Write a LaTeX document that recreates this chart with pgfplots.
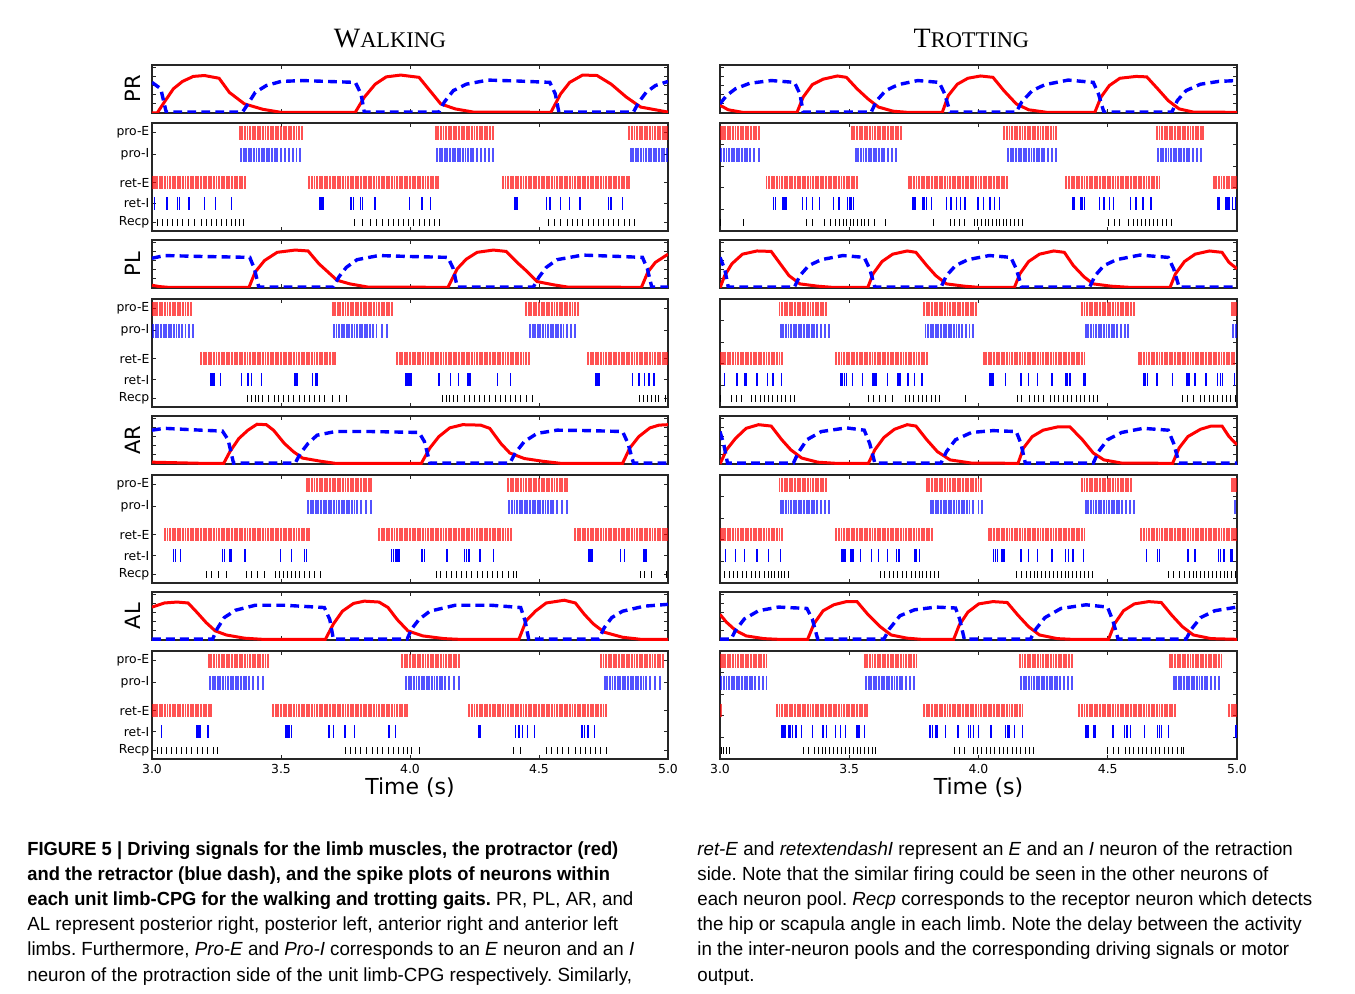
\documentclass[border=0pt]{standalone}
\usepackage{pgfplots}
\pgfplotsset{compat=1.18}
\usepackage{fontspec}
\setmainfont{Liberation Sans}[FakeStretch=0.985]
\newfontfamily\capbold{Liberation Sans}[FakeStretch=0.965]
\newfontfamily\axfont{DejaVu Sans}
\newfontfamily\serfont{Liberation Serif}
\definecolor{cred}{RGB}{255,0,0}
\definecolor{cblue}{RGB}{0,0,255}
\frenchspacing

\makeatletter
\newcommand\spikes[3]{%
  \gdef\spk@list{}%
  \foreach \spkt in {#3}{\xdef\spk@list{\spk@list(\spkt,#2)}}%
  \edef\spk@cmd{\noexpand\addplot[#1] coordinates {\spk@list};}%
  \spk@cmd}
\makeatother

\pgfplotsset{
  base/.style={scale only axis, xmin=3, xmax=5,
    axis line style={line width=0.75pt, black!85},
    tick align=inside, major tick length=2pt,
    every tick/.style={black!85, line width=0.5pt},
    xtick={3.5,4,4.5}, xticklabels={}, yticklabels={},
    tick label style={font=\axfont\fontsize{6.2}{7}\selectfont},
    /pgf/number format/assume math mode=true},
  wcol/.style={width=258pt},
  tcol/.style={width=258.5pt},
  sig/.style={base, height=24pt, ymin=0, ymax=1.05, ytick={0.2,0.4,0.6,0.8,1.0},
    every axis y label/.style={at={(axis description cs:-0.037,0.5)}, rotate=90, anchor=center,
      font=\axfont\fontsize{10.5}{12}\selectfont}},
  ras/.style={base, height=54pt, ymin=0, ymax=5},
  wras/.style={ytick={0.39,1.27,2.24,3.53,4.55}, yticklabels={Recp,ret-I,ret-E,pro-I,pro-E},
    yticklabel style={xshift=2.2pt}},
  tras/.style={ytick={1,2,3,4}},
  bottom/.style={xtick={3,3.5,4,4.5,5}, xticklabels={3.0,3.5,4.0,4.5,5.0}, xlabel={Time (s)},
    xticklabel style={yshift=0.8pt},
    every axis x label/.style={at={(axis description cs:0.5,0)}, anchor=north, yshift=-6pt,
      font=\axfont\fontsize{11}{13}\selectfont}},
  redline/.style={color=cred, line width=1.5pt, no marks},
  blueline/.style={color=cblue, line width=1.7pt, dash pattern=on 4.4pt off 2.6pt, no marks},
  rspk/.style={only marks, mark=|, mark size=3.4pt, color=cred, line width=0.95pt, opacity=0.68},
  bspk/.style={only marks, mark=|, mark size=3.4pt, color=cblue, line width=0.95pt, opacity=0.68},
  ispk/.style={only marks, mark=|, mark size=3.1pt, color=cblue, line width=0.7pt},
  kspk/.style={only marks, mark=|, mark size=1.6pt, color=black, line width=0.5pt},
}

\begin{document}
\begin{tikzpicture}
\useasboundingbox (0,0) rectangle (677.5pt,-497pt);
\fill[white] (0,0) rectangle (677.5pt,-497pt);

\node[anchor=base, font=\serfont] at (195pt,-24pt) {\fontsize{14}{16}\selectfont W\fontsize{11.2}{16}\selectfont ALKING};
\node[anchor=base, font=\serfont] at (485.7pt,-24pt) {\fontsize{14}{16}\selectfont T\fontsize{11.2}{16}\selectfont ROTTING};

% ---- PR walking
\begin{axis}[sig, wcol, at={(76pt,-32.5pt)}, anchor=north west, ylabel={PR}]
\addplot[redline] coordinates {(3.0,0.0)(3.02,0.0)(3.048,0.24)(3.083,0.53)(3.118,0.69)(3.16,0.80)(3.203,0.82)(3.26,0.76)(3.30,0.45)(3.358,0.20)(3.43,0.08)(3.5,0.015)(3.788,0.015)(3.823,0.345)(3.865,0.63)(3.908,0.79)(3.964,0.83)(4.035,0.78)(4.077,0.49)(4.119,0.2)(4.175,0.09)(4.246,0.02)(4.546,0.015)(4.584,0.42)(4.619,0.67)(4.669,0.83)(4.725,0.82)(4.78,0.63)(4.838,0.35)(4.894,0.13)(5.0,0.02)};
\addplot[blueline] coordinates {(3.0,0.67)(3.034,0.53)(3.055,0.02)(3.351,0.02)(3.372,0.20)(3.40,0.45)(3.443,0.60)(3.5,0.69)(3.583,0.71)(3.68,0.69)(3.788,0.67)(3.81,0.42)(3.823,0.02)(4.112,0.02)(4.133,0.24)(4.168,0.49)(4.218,0.63)(4.302,0.72)(4.415,0.70)(4.542,0.67)(4.563,0.42)(4.577,0.02)(4.866,0.02)(4.887,0.24)(4.915,0.45)(4.951,0.60)(5.0,0.69)};
\end{axis}
\begin{axis}[ras, wcol, wras, at={(76pt,-61.5pt)}, anchor=north west]
\spikes{rspk}{4.55}{3.34,3.35,3.36,3.37,3.38,3.39,3.40,3.41,3.42,3.43,3.44,3.45,3.46,3.47,3.48,3.49,3.50,3.51,3.52,3.53,3.54,3.55,3.56,3.57,3.58,4.10,4.11,4.12,4.13,4.14,4.15,4.16,4.17,4.18,4.19,4.20,4.21,4.22,4.23,4.24,4.25,4.26,4.27,4.28,4.29,4.30,4.31,4.32,4.85,4.86,4.87,4.88,4.89,4.90,4.91,4.92,4.93,4.94,4.95,4.96,4.97,4.98,4.99,4.997}
\spikes{bspk}{3.53}{3.345,3.355,3.365,3.375,3.385,3.395,3.405,3.415,3.425,3.435,3.445,3.455,3.465,3.475,3.485,3.50,3.515,3.53,3.545,3.56,3.575,4.105,4.115,4.125,4.135,4.145,4.155,4.165,4.175,4.185,4.195,4.205,4.215,4.225,4.235,4.245,4.26,4.275,4.29,4.305,4.32,4.855,4.865,4.875,4.885,4.895,4.905,4.915,4.925,4.935,4.945,4.955,4.965,4.975,4.985,4.995}
\spikes{rspk}{2.24}{3.003,3.01,3.02,3.03,3.04,3.05,3.06,3.07,3.08,3.09,3.10,3.11,3.12,3.13,3.14,3.15,3.16,3.17,3.18,3.19,3.20,3.21,3.22,3.23,3.24,3.25,3.26,3.27,3.28,3.29,3.30,3.31,3.32,3.33,3.34,3.35,3.36,3.61,3.62,3.63,3.64,3.65,3.66,3.67,3.68,3.69,3.70,3.71,3.72,3.73,3.74,3.75,3.76,3.77,3.78,3.79,3.80,3.81,3.82,3.83,3.84,3.85,3.86,3.87,3.88,3.89,3.90,3.91,3.92,3.93,3.94,3.95,3.96,3.97,3.98,3.99,4.00,4.01,4.02,4.03,4.04,4.05,4.06,4.07,4.08,4.09,4.10,4.11,4.36,4.37,4.38,4.39,4.40,4.41,4.42,4.43,4.44,4.45,4.46,4.47,4.48,4.49,4.50,4.51,4.52,4.53,4.54,4.55,4.56,4.57,4.58,4.59,4.60,4.61,4.62,4.63,4.64,4.65,4.66,4.67,4.68,4.69,4.70,4.71,4.72,4.73,4.74,4.75,4.76,4.77,4.78,4.79,4.80,4.81,4.82,4.83,4.84,4.85}
\spikes{ispk}{1.27}{3.010,3.058,3.100,3.107,3.144,3.203,3.245,3.309,3.651,3.655,3.659,3.663,3.771,3.781,3.809,3.816,3.865,3.999,4.046,4.080,4.404,4.408,4.412,4.416,4.528,4.542,4.584,4.619,4.659,4.770,4.779,4.824}
\spikes{kspk}{0.39}{3.02,3.04,3.06,3.08,3.10,3.12,3.14,3.165,3.19,3.21,3.23,3.25,3.27,3.29,3.31,3.325,3.34,3.355,3.784,3.816,3.845,3.872,3.895,3.915,3.935,3.955,3.975,3.995,4.015,4.035,4.055,4.075,4.095,4.115,4.535,4.56,4.585,4.61,4.63,4.65,4.67,4.69,4.71,4.73,4.75,4.77,4.79,4.81,4.83,4.85,4.87}
\end{axis}

% ---- PL walking
\begin{axis}[sig, wcol, at={(76pt,-120pt)}, anchor=north west, ylabel={PL}]
\addplot[redline] coordinates {(3.0,0.06)(3.03,0.03)(3.062,0.015)(3.376,0.015)(3.40,0.35)(3.436,0.60)(3.485,0.78)(3.555,0.83)(3.605,0.81)(3.647,0.53)(3.682,0.35)(3.717,0.17)(3.767,0.09)(3.837,0.02)(4.147,0.015)(4.183,0.42)(4.218,0.63)(4.26,0.78)(4.323,0.83)(4.373,0.80)(4.415,0.56)(4.45,0.38)(4.493,0.14)(4.556,0.07)(4.612,0.02)(4.897,0.015)(4.922,0.35)(4.951,0.56)(5.0,0.74)};
\addplot[blueline] coordinates {(3.0,0.65)(3.048,0.71)(3.189,0.69)(3.379,0.67)(3.397,0.42)(3.414,0.02)(3.703,0.02)(3.724,0.24)(3.753,0.45)(3.795,0.62)(3.879,0.71)(3.992,0.69)(4.147,0.67)(4.168,0.42)(4.183,0.02)(4.478,0.02)(4.5,0.24)(4.528,0.45)(4.57,0.62)(4.669,0.72)(4.81,0.69)(4.901,0.67)(4.92,0.42)(4.937,0.02)(5.0,0.02)};
\end{axis}
\begin{axis}[ras, wcol, wras, at={(76pt,-149.5pt)}, anchor=north west]
\spikes{rspk}{4.55}{3.003,3.01,3.02,3.03,3.04,3.05,3.06,3.07,3.08,3.09,3.10,3.11,3.12,3.13,3.14,3.15,3.70,3.71,3.72,3.73,3.74,3.75,3.76,3.77,3.78,3.79,3.80,3.81,3.82,3.83,3.84,3.85,3.86,3.87,3.88,3.89,3.90,3.91,3.92,3.93,4.45,4.46,4.47,4.48,4.49,4.50,4.51,4.52,4.53,4.54,4.55,4.56,4.57,4.58,4.59,4.60,4.61,4.62,4.63,4.64,4.65}
\spikes{bspk}{3.53}{3.005,3.015,3.025,3.035,3.045,3.055,3.065,3.075,3.085,3.095,3.105,3.115,3.13,3.145,3.16,3.705,3.715,3.725,3.735,3.745,3.755,3.765,3.775,3.785,3.795,3.805,3.815,3.825,3.835,3.845,3.855,3.87,3.89,3.91,4.465,4.475,4.485,4.495,4.505,4.515,4.525,4.535,4.545,4.555,4.565,4.575,4.585,4.595,4.61,4.625,4.64}
\spikes{rspk}{2.24}{3.19,3.20,3.21,3.22,3.23,3.24,3.25,3.26,3.27,3.28,3.29,3.30,3.31,3.32,3.33,3.34,3.35,3.36,3.37,3.38,3.39,3.40,3.41,3.42,3.43,3.44,3.45,3.46,3.47,3.48,3.49,3.50,3.51,3.52,3.53,3.54,3.55,3.56,3.57,3.58,3.59,3.60,3.61,3.62,3.63,3.64,3.65,3.66,3.67,3.68,3.69,3.70,3.71,3.95,3.96,3.97,3.98,3.99,4.00,4.01,4.02,4.03,4.04,4.05,4.06,4.07,4.08,4.09,4.10,4.11,4.12,4.13,4.14,4.15,4.16,4.17,4.18,4.19,4.20,4.21,4.22,4.23,4.24,4.25,4.26,4.27,4.28,4.29,4.30,4.31,4.32,4.33,4.34,4.35,4.36,4.37,4.38,4.39,4.40,4.41,4.42,4.43,4.44,4.45,4.46,4.69,4.70,4.71,4.72,4.73,4.74,4.75,4.76,4.77,4.78,4.79,4.80,4.81,4.82,4.83,4.84,4.85,4.86,4.87,4.88,4.89,4.90,4.91,4.92,4.93,4.94,4.95,4.96,4.97,4.98,4.99,4.997}
\spikes{ispk}{1.27}{3.228,3.232,3.236,3.240,3.266,3.347,3.372,3.386,3.424,3.555,3.562,3.621,3.633,3.640,3.985,3.990,3.995,4.000,4.005,4.112,4.157,4.187,4.225,4.232,4.338,4.390,4.721,4.725,4.729,4.732,4.862,4.887,4.908,4.927,4.946}
\spikes{kspk}{0.39}{3.372,3.386,3.40,3.414,3.43,3.45,3.475,3.49,3.51,3.53,3.55,3.57,3.59,3.61,3.63,3.65,3.67,3.70,3.727,3.753,4.126,4.14,4.155,4.17,4.185,4.21,4.23,4.25,4.27,4.29,4.31,4.33,4.35,4.37,4.39,4.41,4.43,4.45,4.475,4.89,4.905,4.92,4.935,4.95,4.965,4.99}
\end{axis}

% ---- AR walking
\begin{axis}[sig, wcol, at={(76pt,-208pt)}, anchor=north west, ylabel={AR}]
\addplot[redline] coordinates {(3.0,0.04)(3.19,0.015)(3.278,0.015)(3.302,0.27)(3.337,0.56)(3.372,0.74)(3.407,0.87)(3.443,0.86)(3.471,0.74)(3.513,0.45)(3.548,0.27)(3.583,0.13)(3.654,0.06)(3.71,0.015)(4.044,0.015)(4.077,0.35)(4.112,0.60)(4.154,0.79)(4.204,0.86)(4.274,0.85)(4.309,0.78)(4.352,0.45)(4.387,0.24)(4.443,0.12)(4.514,0.06)(4.584,0.015)(4.824,0.015)(4.852,0.35)(4.887,0.60)(4.93,0.79)(4.965,0.85)(5.0,0.86)};
\addplot[blueline] coordinates {(3.0,0.74)(3.048,0.78)(3.19,0.74)(3.273,0.72)(3.295,0.53)(3.316,0.02)(3.555,0.02)(3.576,0.24)(3.605,0.45)(3.64,0.63)(3.71,0.71)(3.851,0.71)(4.035,0.69)(4.056,0.49)(4.077,0.02)(4.387,0.02)(4.408,0.24)(4.443,0.49)(4.493,0.67)(4.57,0.74)(4.697,0.73)(4.824,0.71)(4.845,0.45)(4.866,0.02)(5.0,0.02)};
\end{axis}
\begin{axis}[ras, wcol, wras, at={(76pt,-237.5pt)}, anchor=north west]
\spikes{rspk}{4.55}{3.60,3.61,3.62,3.63,3.64,3.65,3.66,3.67,3.68,3.69,3.70,3.71,3.72,3.73,3.74,3.75,3.76,3.77,3.78,3.79,3.80,3.81,3.82,3.83,3.84,3.85,4.38,4.39,4.40,4.41,4.42,4.43,4.44,4.45,4.46,4.47,4.48,4.49,4.50,4.51,4.52,4.53,4.54,4.55,4.56,4.57,4.58,4.59,4.60,4.61}
\spikes{bspk}{3.53}{3.605,3.615,3.625,3.635,3.645,3.655,3.665,3.675,3.685,3.695,3.705,3.715,3.725,3.735,3.745,3.755,3.765,3.775,3.785,3.795,3.81,3.83,3.85,4.385,4.395,4.405,4.415,4.425,4.435,4.445,4.455,4.465,4.475,4.485,4.495,4.505,4.515,4.525,4.535,4.545,4.555,4.57,4.59,4.61}
\spikes{rspk}{2.24}{3.05,3.06,3.07,3.08,3.09,3.10,3.11,3.12,3.13,3.14,3.15,3.16,3.17,3.18,3.19,3.20,3.21,3.22,3.23,3.24,3.25,3.26,3.27,3.28,3.29,3.30,3.31,3.32,3.33,3.34,3.35,3.36,3.37,3.38,3.39,3.40,3.41,3.42,3.43,3.44,3.45,3.46,3.47,3.48,3.49,3.50,3.51,3.52,3.53,3.54,3.55,3.56,3.57,3.58,3.59,3.60,3.61,3.88,3.89,3.90,3.91,3.92,3.93,3.94,3.95,3.96,3.97,3.98,3.99,4.00,4.01,4.02,4.03,4.04,4.05,4.06,4.07,4.08,4.09,4.10,4.11,4.12,4.13,4.14,4.15,4.16,4.17,4.18,4.19,4.20,4.21,4.22,4.23,4.24,4.25,4.26,4.27,4.28,4.29,4.30,4.31,4.32,4.33,4.34,4.35,4.36,4.37,4.38,4.39,4.64,4.65,4.66,4.67,4.68,4.69,4.70,4.71,4.72,4.73,4.74,4.75,4.76,4.77,4.78,4.79,4.80,4.81,4.82,4.83,4.84,4.85,4.86,4.87,4.88,4.89,4.90,4.91,4.92,4.93,4.94,4.95,4.96,4.97,4.98,4.99,4.997}
\spikes{ispk}{1.27}{3.083,3.090,3.111,3.273,3.280,3.302,3.309,3.361,3.499,3.541,3.591,3.598,3.929,3.936,3.943,3.950,3.957,4.046,4.056,4.143,4.211,4.218,4.228,4.271,4.323,4.694,4.700,4.705,4.817,4.831,4.906,4.911,4.917}
\spikes{kspk}{0.39}{3.21,3.231,3.259,3.29,3.365,3.386,3.407,3.436,3.478,3.495,3.51,3.525,3.54,3.555,3.57,3.59,3.61,3.63,3.654,4.102,4.12,4.14,4.16,4.18,4.20,4.22,4.24,4.26,4.28,4.30,4.32,4.34,4.36,4.38,4.40,4.412,4.894,4.91,4.935,4.993}
\end{axis}

% ---- AL walking
\begin{axis}[sig, wcol, at={(76pt,-296pt)}, anchor=north west, ylabel={AL}]
\addplot[redline] coordinates {(3.0,0.72)(3.048,0.81)(3.097,0.83)(3.14,0.81)(3.175,0.60)(3.21,0.38)(3.245,0.20)(3.288,0.11)(3.358,0.04)(3.428,0.015)(3.672,0.015)(3.703,0.35)(3.738,0.63)(3.781,0.80)(3.823,0.85)(3.88,0.83)(3.915,0.71)(3.95,0.45)(3.992,0.20)(4.049,0.09)(4.133,0.03)(4.19,0.015)(4.422,0.015)(4.45,0.42)(4.486,0.63)(4.528,0.81)(4.598,0.87)(4.641,0.81)(4.676,0.56)(4.711,0.35)(4.753,0.17)(4.824,0.06)(4.894,0.015)(5.0,0.015)};
\addplot[blueline] coordinates {(3.0,0.02)(3.235,0.02)(3.252,0.24)(3.28,0.49)(3.323,0.65)(3.40,0.76)(3.513,0.76)(3.668,0.71)(3.689,0.45)(3.703,0.02)(3.989,0.02)(4.006,0.24)(4.035,0.45)(4.077,0.63)(4.175,0.76)(4.316,0.76)(4.429,0.71)(4.446,0.42)(4.46,0.02)(4.732,0.02)(4.753,0.27)(4.782,0.49)(4.824,0.63)(4.908,0.74)(5.0,0.78)};
\end{axis}
\begin{axis}[ras, wcol, wras, bottom, at={(76pt,-325.5pt)}, anchor=north west]
\spikes{rspk}{4.55}{3.22,3.23,3.24,3.25,3.26,3.27,3.28,3.29,3.30,3.31,3.32,3.33,3.34,3.35,3.36,3.37,3.38,3.39,3.40,3.41,3.42,3.43,3.44,3.45,3.97,3.98,3.99,4.00,4.01,4.02,4.03,4.04,4.05,4.06,4.07,4.08,4.09,4.10,4.11,4.12,4.13,4.14,4.15,4.16,4.17,4.18,4.19,4.74,4.75,4.76,4.77,4.78,4.79,4.80,4.81,4.82,4.83,4.84,4.85,4.86,4.87,4.88,4.89,4.90,4.91,4.92,4.93,4.94,4.95,4.96,4.97,4.98}
\spikes{bspk}{3.53}{3.225,3.235,3.245,3.255,3.265,3.275,3.285,3.295,3.305,3.315,3.325,3.335,3.345,3.355,3.365,3.375,3.39,3.41,3.43,3.985,3.995,4.005,4.015,4.025,4.035,4.045,4.055,4.065,4.075,4.085,4.095,4.105,4.115,4.125,4.135,4.15,4.17,4.19,4.755,4.765,4.775,4.785,4.795,4.805,4.815,4.825,4.835,4.845,4.855,4.865,4.875,4.885,4.895,4.905,4.915,4.93,4.95,4.97}
\spikes{rspk}{2.24}{3.003,3.01,3.02,3.03,3.04,3.05,3.06,3.07,3.08,3.09,3.10,3.11,3.12,3.13,3.14,3.15,3.16,3.17,3.18,3.19,3.20,3.21,3.22,3.23,3.47,3.48,3.49,3.50,3.51,3.52,3.53,3.54,3.55,3.56,3.57,3.58,3.59,3.60,3.61,3.62,3.63,3.64,3.65,3.66,3.67,3.68,3.69,3.70,3.71,3.72,3.73,3.74,3.75,3.76,3.77,3.78,3.79,3.80,3.81,3.82,3.83,3.84,3.85,3.86,3.87,3.88,3.89,3.90,3.91,3.92,3.93,3.94,3.95,3.96,3.97,3.98,3.99,4.23,4.24,4.25,4.26,4.27,4.28,4.29,4.30,4.31,4.32,4.33,4.34,4.35,4.36,4.37,4.38,4.39,4.40,4.41,4.42,4.43,4.44,4.45,4.46,4.47,4.48,4.49,4.50,4.51,4.52,4.53,4.54,4.55,4.56,4.57,4.58,4.59,4.60,4.61,4.62,4.63,4.64,4.65,4.66,4.67,4.68,4.69,4.70,4.71,4.72,4.73,4.74,4.75,4.76}
\spikes{ispk}{1.27}{3.037,3.172,3.178,3.183,3.189,3.217,3.520,3.527,3.534,3.541,3.686,3.703,3.746,3.750,3.785,3.918,3.943,4.267,4.271,4.274,4.408,4.422,4.436,4.455,4.483,4.666,4.676,4.690,4.715}
\spikes{kspk}{0.39}{3.02,3.037,3.055,3.075,3.095,3.115,3.135,3.155,3.175,3.195,3.215,3.24,3.255,3.75,3.77,3.79,3.81,3.83,3.855,3.875,3.895,3.915,3.935,3.955,3.975,3.99,4.005,4.035,4.401,4.429,4.528,4.55,4.57,4.59,4.615,4.64,4.66,4.68,4.70,4.72,4.74,4.76}
\end{axis}

% ---- PR trotting
\begin{axis}[sig, tcol, at={(360pt,-32.5pt)}, anchor=north west]
\addplot[redline] coordinates {(3.0,0.17)(3.032,0.07)(3.087,0.015)(3.298,0.015)(3.322,0.35)(3.357,0.62)(3.399,0.74)(3.454,0.81)(3.489,0.78)(3.53,0.53)(3.572,0.31)(3.613,0.13)(3.669,0.04)(3.724,0.015)(3.86,0.015)(3.883,0.38)(3.918,0.63)(3.959,0.76)(4.008,0.81)(4.056,0.78)(4.098,0.49)(4.146,0.20)(4.194,0.07)(4.264,0.015)(4.45,0.015)(4.474,0.35)(4.506,0.60)(4.547,0.76)(4.61,0.80)(4.651,0.79)(4.693,0.53)(4.734,0.27)(4.776,0.09)(4.831,0.02)(5.0,0.015)};
\addplot[blueline] coordinates {(3.0,0.20)(3.025,0.38)(3.06,0.53)(3.115,0.65)(3.198,0.71)(3.288,0.67)(3.309,0.42)(3.322,0.02)(3.585,0.02)(3.606,0.27)(3.641,0.49)(3.689,0.62)(3.765,0.71)(3.848,0.67)(3.869,0.42)(3.89,0.02)(4.146,0.02)(4.167,0.24)(4.208,0.49)(4.257,0.62)(4.347,0.72)(4.444,0.67)(4.464,0.42)(4.485,0.02)(4.748,0.02)(4.769,0.27)(4.803,0.49)(4.859,0.63)(4.928,0.69)(5.0,0.71)};
\end{axis}
\begin{axis}[ras, tcol, tras, at={(360pt,-61.5pt)}, anchor=north west]
\spikes{rspk}{4.55}{3.003,3.01,3.02,3.03,3.04,3.05,3.06,3.07,3.08,3.09,3.10,3.11,3.12,3.13,3.14,3.15,3.51,3.52,3.53,3.54,3.55,3.56,3.57,3.58,3.59,3.60,3.61,3.62,3.63,3.64,3.65,3.66,3.67,3.68,3.69,3.70,4.10,4.11,4.12,4.13,4.14,4.15,4.16,4.17,4.18,4.19,4.20,4.21,4.22,4.23,4.24,4.25,4.26,4.27,4.28,4.29,4.30,4.69,4.70,4.71,4.72,4.73,4.74,4.75,4.76,4.77,4.78,4.79,4.80,4.81,4.82,4.83,4.84,4.85,4.86,4.87}
\spikes{bspk}{3.53}{3.005,3.015,3.025,3.035,3.045,3.055,3.065,3.075,3.085,3.095,3.105,3.115,3.13,3.15,3.525,3.535,3.545,3.555,3.565,3.575,3.585,3.595,3.605,3.615,3.625,3.635,3.65,3.665,3.68,4.115,4.125,4.135,4.145,4.155,4.165,4.175,4.185,4.195,4.205,4.215,4.225,4.235,4.245,4.255,4.27,4.285,4.30,4.695,4.705,4.715,4.725,4.735,4.745,4.755,4.765,4.775,4.785,4.795,4.805,4.815,4.83,4.845,4.86}
\spikes{rspk}{2.24}{3.18,3.19,3.20,3.21,3.22,3.23,3.24,3.25,3.26,3.27,3.28,3.29,3.30,3.31,3.32,3.33,3.34,3.35,3.36,3.37,3.38,3.39,3.40,3.41,3.42,3.43,3.44,3.45,3.46,3.47,3.48,3.49,3.50,3.51,3.52,3.53,3.73,3.74,3.75,3.76,3.77,3.78,3.79,3.80,3.81,3.82,3.83,3.84,3.85,3.86,3.87,3.88,3.89,3.90,3.91,3.92,3.93,3.94,3.95,3.96,3.97,3.98,3.99,4.00,4.01,4.02,4.03,4.04,4.05,4.06,4.07,4.08,4.09,4.10,4.11,4.34,4.35,4.36,4.37,4.38,4.39,4.40,4.41,4.42,4.43,4.44,4.45,4.46,4.47,4.48,4.49,4.50,4.51,4.52,4.53,4.54,4.55,4.56,4.57,4.58,4.59,4.60,4.61,4.62,4.63,4.64,4.65,4.66,4.67,4.68,4.69,4.70,4.91,4.92,4.93,4.94,4.95,4.96,4.97,4.98,4.99,4.997}
\spikes{ispk}{1.27}{3.208,3.215,3.244,3.250,3.256,3.320,3.334,3.357,3.385,3.440,3.461,3.493,3.500,3.507,3.516,3.747,3.754,3.786,3.792,3.798,3.818,3.876,3.894,3.915,3.931,3.948,3.998,4.019,4.045,4.063,4.081,4.365,4.372,4.396,4.402,4.409,4.468,4.485,4.506,4.523,4.589,4.610,4.637,4.668,4.924,4.931,4.955,4.962,4.969,4.983,4.993}
\spikes{kspk}{0.39}{3.003,3.09,3.334,3.357,3.406,3.427,3.445,3.462,3.476,3.49,3.504,3.518,3.532,3.546,3.56,3.574,3.599,3.641,3.825,3.89,3.907,3.925,3.945,3.984,3.998,4.012,4.026,4.04,4.054,4.068,4.082,4.096,4.11,4.124,4.138,4.154,4.17,4.502,4.527,4.547,4.582,4.598,4.614,4.63,4.646,4.662,4.678,4.694,4.71,4.726,4.748}
\end{axis}

% ---- PL trotting
\begin{axis}[sig, tcol, at={(360pt,-120pt)}, anchor=north west]
\addplot[redline] coordinates {(3.0,0.0)(3.018,0.27)(3.046,0.53)(3.087,0.74)(3.143,0.81)(3.198,0.80)(3.233,0.53)(3.267,0.27)(3.309,0.09)(3.378,0.04)(3.433,0.015)(3.572,0.015)(3.592,0.31)(3.627,0.58)(3.668,0.74)(3.724,0.81)(3.758,0.78)(3.80,0.49)(3.835,0.27)(3.876,0.09)(3.945,0.04)(4.0,0.015)(4.139,0.015)(4.16,0.31)(4.194,0.58)(4.236,0.74)(4.291,0.81)(4.332,0.78)(4.367,0.49)(4.409,0.24)(4.444,0.09)(4.513,0.04)(4.582,0.015)(4.741,0.015)(4.762,0.31)(4.797,0.58)(4.838,0.74)(4.893,0.81)(4.942,0.78)(4.969,0.56)(5.0,0.42)};
\addplot[blueline] coordinates {(3.0,0.67)(3.018,0.42)(3.032,0.02)(3.288,0.02)(3.309,0.27)(3.343,0.49)(3.392,0.62)(3.475,0.71)(3.558,0.67)(3.579,0.42)(3.599,0.02)(3.855,0.02)(3.876,0.27)(3.911,0.49)(3.959,0.62)(4.042,0.71)(4.125,0.67)(4.146,0.42)(4.167,0.02)(4.43,0.02)(4.451,0.27)(4.485,0.49)(4.534,0.62)(4.624,0.72)(4.734,0.67)(4.755,0.42)(4.776,0.02)(5.0,0.02)};
\end{axis}
\begin{axis}[ras, tcol, tras, at={(360pt,-149.5pt)}, anchor=north west]
\spikes{rspk}{4.55}{3.23,3.24,3.25,3.26,3.27,3.28,3.29,3.30,3.31,3.32,3.33,3.34,3.35,3.36,3.37,3.38,3.39,3.40,3.41,3.79,3.80,3.81,3.82,3.83,3.84,3.85,3.86,3.87,3.88,3.89,3.90,3.91,3.92,3.93,3.94,3.95,3.96,3.97,3.98,3.99,4.40,4.41,4.42,4.43,4.44,4.45,4.46,4.47,4.48,4.49,4.50,4.51,4.52,4.53,4.54,4.55,4.56,4.57,4.58,4.59,4.60,4.98,4.99,4.997}
\spikes{bspk}{3.53}{3.235,3.245,3.255,3.265,3.275,3.285,3.295,3.305,3.315,3.325,3.335,3.345,3.355,3.365,3.375,3.39,3.405,3.42,3.795,3.805,3.815,3.825,3.835,3.845,3.855,3.865,3.875,3.885,3.895,3.905,3.915,3.925,3.935,3.95,3.965,3.98,4.415,4.425,4.435,4.445,4.455,4.465,4.475,4.485,4.495,4.505,4.515,4.525,4.535,4.55,4.565,4.58,4.985,4.995}
\spikes{rspk}{2.24}{3.003,3.01,3.02,3.03,3.04,3.05,3.06,3.07,3.08,3.09,3.10,3.11,3.12,3.13,3.14,3.15,3.16,3.17,3.18,3.19,3.20,3.21,3.22,3.23,3.24,3.45,3.46,3.47,3.48,3.49,3.50,3.51,3.52,3.53,3.54,3.55,3.56,3.57,3.58,3.59,3.60,3.61,3.62,3.63,3.64,3.65,3.66,3.67,3.68,3.69,3.70,3.71,3.72,3.73,3.74,3.75,3.76,3.77,3.78,3.79,3.80,4.02,4.03,4.04,4.05,4.06,4.07,4.08,4.09,4.10,4.11,4.12,4.13,4.14,4.15,4.16,4.17,4.18,4.19,4.20,4.21,4.22,4.23,4.24,4.25,4.26,4.27,4.28,4.29,4.30,4.31,4.32,4.33,4.34,4.35,4.36,4.37,4.38,4.39,4.40,4.41,4.62,4.63,4.64,4.65,4.66,4.67,4.68,4.69,4.70,4.71,4.72,4.73,4.74,4.75,4.76,4.77,4.78,4.79,4.80,4.81,4.82,4.83,4.84,4.85,4.86,4.87,4.88,4.89,4.90,4.91,4.92,4.93,4.94,4.95,4.96,4.97,4.98,4.99}
\spikes{ispk}{1.27}{3.018,3.066,3.094,3.101,3.143,3.184,3.205,3.237,3.468,3.475,3.482,3.489,3.513,3.551,3.592,3.599,3.606,3.648,3.689,3.696,3.727,3.752,3.782,4.045,4.052,4.059,4.104,4.163,4.167,4.194,4.229,4.284,4.336,4.343,4.354,4.405,4.412,4.640,4.647,4.654,4.690,4.751,4.806,4.815,4.838,4.880,4.925,4.935,4.945,4.990}
\spikes{kspk}{0.39}{3.003,3.046,3.064,3.084,3.122,3.139,3.155,3.172,3.189,3.205,3.222,3.239,3.255,3.272,3.289,3.574,3.595,3.616,3.641,3.668,3.717,3.733,3.75,3.767,3.783,3.8,3.817,3.833,3.85,3.948,4.15,4.167,4.197,4.215,4.232,4.25,4.278,4.295,4.311,4.328,4.345,4.361,4.378,4.395,4.411,4.428,4.445,4.46,4.79,4.81,4.831,4.859,4.876,4.893,4.909,4.926,4.942,4.959,4.976,4.993}
\end{axis}

% ---- AR trotting
\begin{axis}[sig, tcol, at={(360pt,-208pt)}, anchor=north west]
\addplot[redline] coordinates {(3.0,0.0)(3.025,0.31)(3.06,0.56)(3.101,0.78)(3.149,0.86)(3.198,0.83)(3.239,0.53)(3.274,0.31)(3.316,0.13)(3.378,0.04)(3.447,0.015)(3.574,0.015)(3.599,0.31)(3.634,0.58)(3.675,0.76)(3.724,0.86)(3.758,0.83)(3.80,0.53)(3.841,0.27)(3.89,0.09)(3.973,0.02)(4.153,0.015)(4.174,0.35)(4.208,0.60)(4.25,0.74)(4.305,0.81)(4.354,0.81)(4.402,0.53)(4.444,0.24)(4.485,0.09)(4.554,0.02)(4.751,0.015)(4.776,0.35)(4.81,0.60)(4.859,0.76)(4.90,0.83)(4.942,0.83)(4.969,0.60)(5.0,0.42)};
\addplot[blueline] coordinates {(3.0,0.71)(3.015,0.42)(3.029,0.02)(3.284,0.02)(3.302,0.24)(3.336,0.53)(3.392,0.71)(3.489,0.79)(3.558,0.74)(3.579,0.45)(3.599,0.02)(3.855,0.02)(3.876,0.27)(3.911,0.53)(3.973,0.69)(4.056,0.73)(4.146,0.71)(4.164,0.45)(4.181,0.02)(4.444,0.02)(4.464,0.27)(4.499,0.53)(4.554,0.69)(4.637,0.78)(4.734,0.74)(4.755,0.45)(4.776,0.02)(5.0,0.02)};
\end{axis}
\begin{axis}[ras, tcol, tras, at={(360pt,-237.5pt)}, anchor=north west]
\spikes{rspk}{4.55}{3.23,3.24,3.25,3.26,3.27,3.28,3.29,3.30,3.31,3.32,3.33,3.34,3.35,3.36,3.37,3.38,3.39,3.40,3.41,3.80,3.81,3.82,3.83,3.84,3.85,3.86,3.87,3.88,3.89,3.90,3.91,3.92,3.93,3.94,3.95,3.96,3.97,3.98,3.99,4.00,4.01,4.40,4.41,4.42,4.43,4.44,4.45,4.46,4.47,4.48,4.49,4.50,4.51,4.52,4.53,4.54,4.55,4.56,4.57,4.58,4.59,4.98,4.99,4.997}
\spikes{bspk}{3.53}{3.235,3.245,3.255,3.265,3.275,3.285,3.295,3.305,3.315,3.325,3.335,3.345,3.355,3.365,3.375,3.39,3.405,3.42,3.815,3.825,3.835,3.845,3.855,3.865,3.875,3.885,3.895,3.905,3.915,3.925,3.935,3.945,3.955,3.965,3.98,4.00,4.015,4.415,4.425,4.435,4.445,4.455,4.465,4.475,4.485,4.495,4.505,4.515,4.525,4.535,4.545,4.555,4.57,4.585,4.60,4.993}
\spikes{rspk}{2.24}{3.003,3.01,3.02,3.03,3.04,3.05,3.06,3.07,3.08,3.09,3.10,3.11,3.12,3.13,3.14,3.15,3.16,3.17,3.18,3.19,3.20,3.21,3.22,3.23,3.24,3.45,3.46,3.47,3.48,3.49,3.50,3.51,3.52,3.53,3.54,3.55,3.56,3.57,3.58,3.59,3.60,3.61,3.62,3.63,3.64,3.65,3.66,3.67,3.68,3.69,3.70,3.71,3.72,3.73,3.74,3.75,3.76,3.77,3.78,3.79,3.80,3.81,3.82,4.04,4.05,4.06,4.07,4.08,4.09,4.10,4.11,4.12,4.13,4.14,4.15,4.16,4.17,4.18,4.19,4.20,4.21,4.22,4.23,4.24,4.25,4.26,4.27,4.28,4.29,4.30,4.31,4.32,4.33,4.34,4.35,4.36,4.37,4.38,4.39,4.40,4.41,4.63,4.64,4.65,4.66,4.67,4.68,4.69,4.70,4.71,4.72,4.73,4.74,4.75,4.76,4.77,4.78,4.79,4.80,4.81,4.82,4.83,4.84,4.85,4.86,4.87,4.88,4.89,4.90,4.91,4.92,4.93,4.94,4.95,4.96,4.97,4.98,4.99,4.997}
\spikes{ispk}{1.27}{3.022,3.060,3.094,3.143,3.188,3.233,3.472,3.477,3.483,3.505,3.510,3.516,3.544,3.585,3.613,3.648,3.682,3.692,3.752,3.758,3.772,4.059,4.066,4.073,4.091,4.098,4.164,4.194,4.229,4.284,4.336,4.347,4.365,4.406,4.651,4.693,4.700,4.810,4.838,4.928,4.935,4.949,4.976,4.983}
\spikes{kspk}{0.39}{3.018,3.035,3.052,3.069,3.086,3.103,3.12,3.137,3.154,3.171,3.188,3.2,3.212,3.225,3.237,3.25,3.265,3.62,3.637,3.654,3.671,3.688,3.705,3.72,3.74,3.755,3.77,3.785,3.80,3.815,3.83,3.845,4.146,4.166,4.186,4.2,4.215,4.23,4.245,4.26,4.275,4.29,4.305,4.32,4.335,4.35,4.365,4.38,4.395,4.41,4.425,4.44,4.734,4.755,4.776,4.797,4.815,4.83,4.845,4.86,4.875,4.89,4.905,4.92,4.935,4.95,4.965,4.98,4.995}
\end{axis}

% ---- AL trotting
\begin{axis}[sig, tcol, at={(360pt,-296pt)}, anchor=north west]
\addplot[redline] coordinates {(3.0,0.56)(3.025,0.39)(3.06,0.21)(3.101,0.09)(3.17,0.03)(3.226,0.015)(3.339,0.015)(3.364,0.36)(3.399,0.64)(3.44,0.77)(3.489,0.84)(3.53,0.84)(3.572,0.56)(3.62,0.29)(3.662,0.11)(3.724,0.04)(3.779,0.015)(3.904,0.015)(3.925,0.32)(3.959,0.61)(4.001,0.79)(4.056,0.84)(4.111,0.82)(4.153,0.54)(4.194,0.29)(4.236,0.11)(4.305,0.03)(4.36,0.015)(4.503,0.015)(4.527,0.36)(4.561,0.64)(4.603,0.79)(4.658,0.84)(4.707,0.82)(4.748,0.54)(4.789,0.29)(4.831,0.11)(4.90,0.03)(5.0,0.015)};
\addplot[blueline] coordinates {(3.0,0.02)(3.043,0.02)(3.06,0.21)(3.094,0.46)(3.149,0.64)(3.226,0.72)(3.336,0.69)(3.357,0.46)(3.378,0.02)(3.634,0.02)(3.655,0.24)(3.696,0.53)(3.752,0.66)(3.835,0.72)(3.911,0.70)(3.927,0.46)(3.945,0.02)(4.201,0.02)(4.222,0.24)(4.257,0.49)(4.319,0.69)(4.416,0.77)(4.499,0.72)(4.52,0.42)(4.54,0.02)(4.803,0.02)(4.824,0.24)(4.859,0.49)(4.914,0.64)(5.0,0.72)};
\end{axis}
\begin{axis}[ras, tcol, tras, bottom, at={(360pt,-325.5pt)}, anchor=north west]
\spikes{rspk}{4.55}{3.003,3.01,3.02,3.03,3.04,3.05,3.06,3.07,3.08,3.09,3.10,3.11,3.12,3.13,3.14,3.15,3.16,3.17,3.18,3.56,3.57,3.58,3.59,3.60,3.61,3.62,3.63,3.64,3.65,3.66,3.67,3.68,3.69,3.70,3.71,3.72,3.73,3.74,3.75,3.76,4.16,4.17,4.18,4.19,4.20,4.21,4.22,4.23,4.24,4.25,4.26,4.27,4.28,4.29,4.30,4.31,4.32,4.33,4.34,4.35,4.36,4.74,4.75,4.76,4.77,4.78,4.79,4.80,4.81,4.82,4.83,4.84,4.85,4.86,4.87,4.88,4.89,4.90,4.91,4.92,4.93,4.94}
\spikes{bspk}{3.53}{3.005,3.015,3.025,3.035,3.045,3.055,3.065,3.075,3.085,3.095,3.105,3.115,3.125,3.135,3.15,3.165,3.18,3.565,3.575,3.585,3.595,3.605,3.615,3.625,3.635,3.645,3.655,3.665,3.675,3.685,3.695,3.705,3.72,3.735,3.75,4.165,4.175,4.185,4.195,4.205,4.215,4.225,4.235,4.245,4.255,4.265,4.275,4.285,4.295,4.305,4.315,4.33,4.345,4.36,4.755,4.765,4.775,4.785,4.795,4.805,4.815,4.825,4.835,4.845,4.855,4.865,4.875,4.885,4.90,4.915,4.93}
\spikes{rspk}{2.24}{3.004,3.22,3.23,3.24,3.25,3.26,3.27,3.28,3.29,3.30,3.31,3.32,3.33,3.34,3.35,3.36,3.37,3.38,3.39,3.40,3.41,3.42,3.43,3.44,3.45,3.46,3.47,3.48,3.49,3.50,3.51,3.52,3.53,3.54,3.55,3.56,3.57,3.79,3.80,3.81,3.82,3.83,3.84,3.85,3.86,3.87,3.88,3.89,3.90,3.91,3.92,3.93,3.94,3.95,3.96,3.97,3.98,3.99,4.00,4.01,4.02,4.03,4.04,4.05,4.06,4.07,4.08,4.09,4.10,4.11,4.12,4.13,4.14,4.15,4.16,4.17,4.39,4.40,4.41,4.42,4.43,4.44,4.45,4.46,4.47,4.48,4.49,4.50,4.51,4.52,4.53,4.54,4.55,4.56,4.57,4.58,4.59,4.60,4.61,4.62,4.63,4.64,4.65,4.66,4.67,4.68,4.69,4.70,4.71,4.72,4.73,4.74,4.75,4.76,4.97,4.98,4.99,4.997}
\spikes{ispk}{1.27}{3.239,3.243,3.247,3.251,3.264,3.270,3.281,3.294,3.316,3.357,3.399,3.412,3.447,3.465,3.486,3.530,3.537,3.558,3.810,3.815,3.821,3.835,3.841,3.873,3.920,3.962,3.969,3.980,4.001,4.049,4.104,4.111,4.118,4.139,4.170,4.413,4.418,4.424,4.444,4.451,4.520,4.565,4.575,4.589,4.642,4.693,4.700,4.707,4.734,4.993,4.997}
\spikes{kspk}{0.39}{3.004,3.015,3.026,3.037,3.322,3.343,3.364,3.38,3.395,3.41,3.425,3.44,3.455,3.47,3.485,3.5,3.515,3.53,3.545,3.56,3.575,3.59,3.6,3.907,3.925,3.945,3.98,3.996,4.013,4.03,4.046,4.063,4.08,4.096,4.113,4.13,4.146,4.163,4.18,4.196,4.211,4.499,4.524,4.543,4.568,4.585,4.601,4.618,4.635,4.651,4.668,4.685,4.701,4.718,4.735,4.751,4.768,4.785,4.792}
\end{axis}

% ================= CAPTION =================
\begin{scope}[every node/.style={anchor=base west, inner sep=0pt, font=\fontsize{9.5}{12.6}\selectfont}]
\node at (13.5pt,-427.5pt) {{\capbold\bfseries FIGURE 5 | Driving signals for the limb muscles, the protractor (red)}};
\node at (13.5pt,-440.1pt) {{\capbold\bfseries and the retractor (blue dash), and the spike plots of neurons within}};
\node at (13.5pt,-452.7pt) {{\capbold\bfseries each unit limb-CPG for the walking and trotting gaits.} PR, PL, AR, and};
\node at (13.5pt,-465.3pt) {AL represent posterior right, posterior left, anterior right and anterior left};
\node at (13.5pt,-477.9pt) {limbs. Furthermore, \textit{Pro-E} and \textit{Pro-I} corresponds to an \textit{E} neuron and an \textit{I}};
\node at (13.5pt,-490.5pt) {neuron of the protraction side of the unit limb-CPG respectively. Similarly,};
\node at (348.5pt,-427.5pt) {\textit{ret-E} and \textit{retextendashI} represent an \textit{E} and an \textit{I} neuron of the retraction};
\node at (348.5pt,-440.1pt) {side. Note that the similar firing could be seen in the other neurons of};
\node at (348.5pt,-452.7pt) {each neuron pool. \textit{Recp} corresponds to the receptor neuron which detects};
\node at (348.5pt,-465.3pt) {the hip or scapula angle in each limb. Note the delay between the activity};
\node at (348.5pt,-477.9pt) {in the inter-neuron pools and the corresponding driving signals or motor};
\node at (348.5pt,-490.5pt) {output.};
\end{scope}
\end{tikzpicture}
\end{document}
